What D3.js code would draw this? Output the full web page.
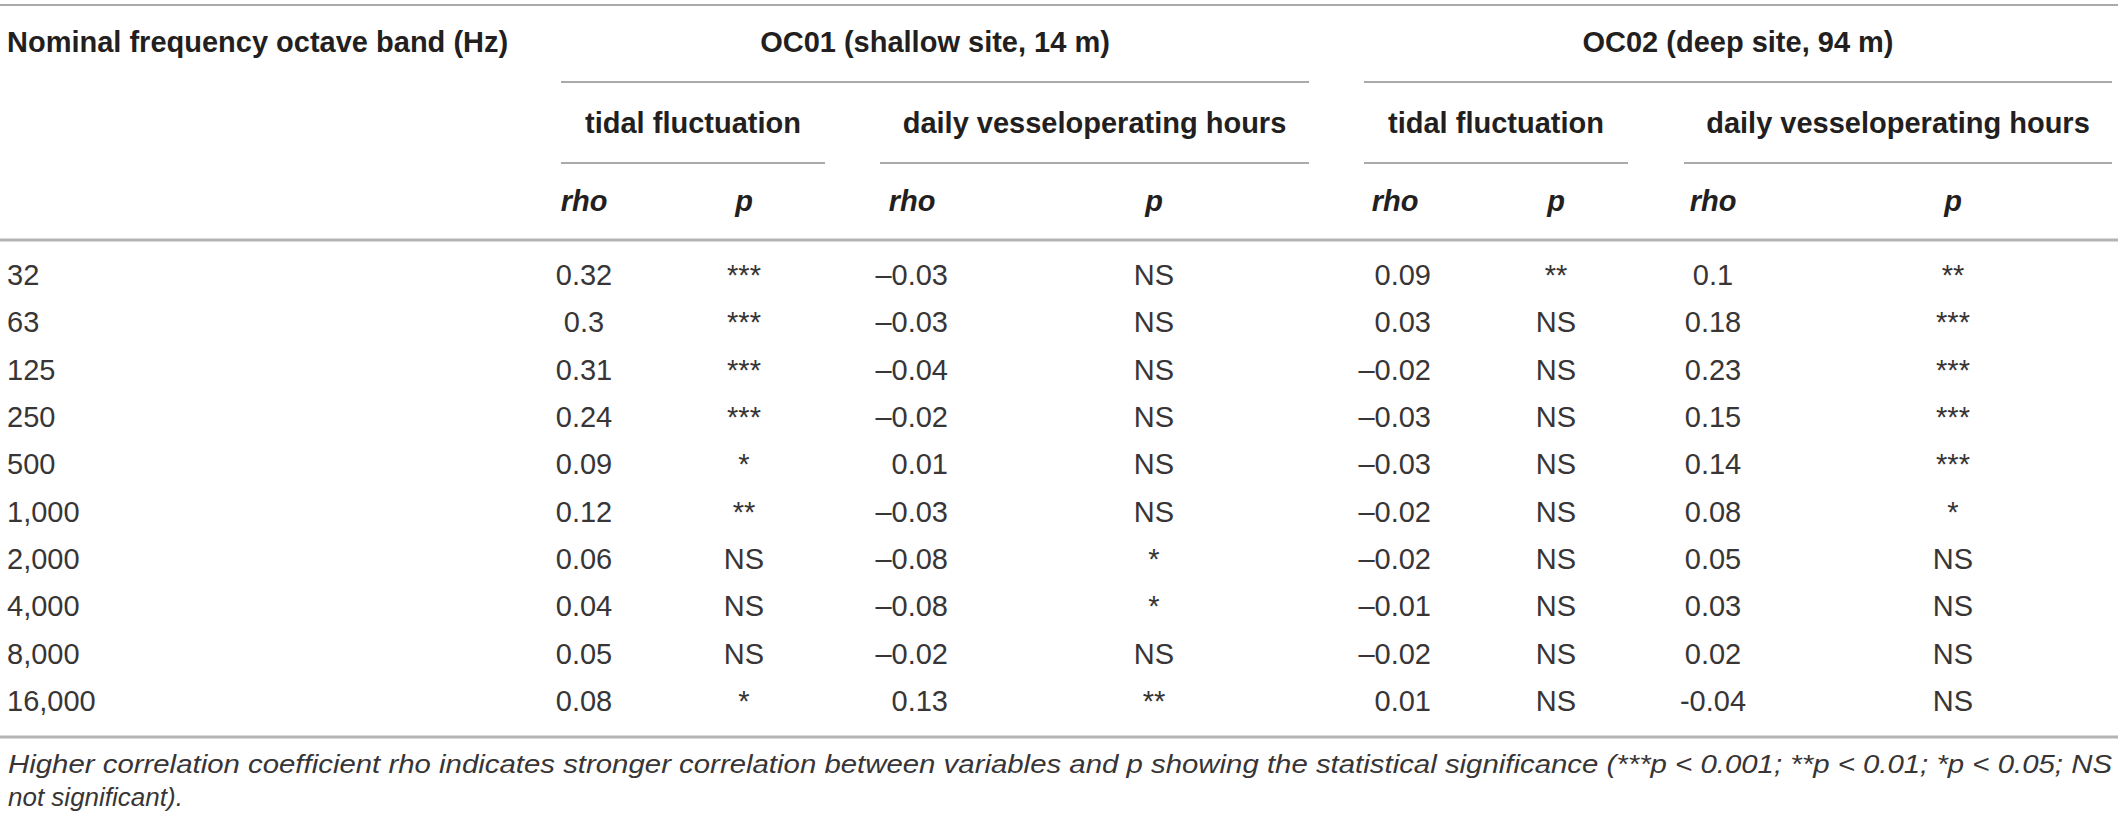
<!DOCTYPE html>
<html>
<head>
<meta charset="utf-8">
<script src="https://cdn.jsdelivr.net/npm/d3@7"></script>
<style>
  html, body { margin: 0; padding: 0; background: #fff; }
  svg { display: block; font-family: 'Liberation Sans', Arial, Helvetica, sans-serif; }
</style>
</head>
<body>
<div id="table"></div>
<script>
// Row labels (nominal frequency octave band, Hz)
const bands = ['32', '63', '125', '250', '500', '1,000', '2,000', '4,000', '8,000', '16,000']

// OC01 (shallow site, 14 m)
const oc01TidalRho = ['0.32', '0.3', '0.31', '0.24', '0.09', '0.12', '0.06', '0.04', '0.05', '0.08']
const oc01TidalP = ['***', '***', '***', '***', '*', '**', 'NS', 'NS', 'NS', '*']
const oc01VesselRho = ['–0.03', '–0.03', '–0.04', '–0.02', '0.01', '–0.03', '–0.08', '–0.08', '–0.02', '0.13']
const oc01VesselP = ['NS', 'NS', 'NS', 'NS', 'NS', 'NS', '*', '*', 'NS', '**']

// OC02 (deep site, 94 m)
const oc02TidalRho = ['0.09', '0.03', '–0.02', '–0.03', '–0.03', '–0.02', '–0.02', '–0.01', '–0.02', '0.01']
const oc02TidalP = ['**', 'NS', 'NS', 'NS', 'NS', 'NS', 'NS', 'NS', 'NS', 'NS']
const oc02VesselRho = ['0.1', '0.18', '0.23', '0.15', '0.14', '0.08', '0.05', '0.03', '0.02', '-0.04']
const oc02VesselP = ['**', '***', '***', '***', '***', '*', 'NS', 'NS', 'NS', 'NS']

const sites = ['OC01 (shallow site, 14 m)', 'OC02 (deep site, 94 m)']
const drivers = ['tidal fluctuation', 'daily vesseloperating hours']
const stats = ['rho', 'p']

const footnote = [
  'Higher correlation coefficient rho indicates stronger correlation between variables and p showing the statistical significance (***p < 0.001; **p < 0.01; *p < 0.05; NS',
  'not significant).'
]

const width = 2118
const height = 823
const ink = '#231f20'
const bodyInk = '#383536'

// columns: key, values, header x, value anchor
const columns = [
  { key: 'r1', values: oc01TidalRho, head: 584, anchor: 'middle' },
  { key: 'p1', values: oc01TidalP, head: 744, anchor: 'middle' },
  { key: 'r2', values: oc01VesselRho, head: 912, anchor: 'end' },
  { key: 'p2', values: oc01VesselP, head: 1154, anchor: 'middle' },
  { key: 'r3', values: oc02TidalRho, head: 1395, anchor: 'end' },
  { key: 'p3', values: oc02TidalP, head: 1556, anchor: 'middle' },
  { key: 'r4', values: oc02VesselRho, head: 1713, anchor: 'middle' },
  { key: 'p4', values: oc02VesselP, head: 1953, anchor: 'middle' }
]

const valueX = d3.scaleOrdinal()
  .domain(columns.map(c => c.key))
  .range([584, 744, 948, 1154, 1431, 1556, 1713, 1953])

const y = d3.scalePoint()
  .domain(bands)
  .range([285, 711])

// spans for the group rules
const siteSpans = [[561, 1309], [1364, 2112]]
const driverSpans = [[561, 825], [880, 1309], [1364, 1628], [1684, 2112]]

const svg = d3.select('#table')
  .append('svg')
  .attr('width', width)
  .attr('height', height)
  .style('background-color', '#FFF')

const rule = (x1, x2, yy, color, w) => {
  svg.append('line')
    .attr('x1', x1).attr('x2', x2)
    .attr('y1', yy).attr('y2', yy)
    .attr('stroke', color)
    .attr('stroke-width', w)
}

// Rules
rule(0, width, 5, '#8e8e8e', 1.5)
siteSpans.forEach(s => rule(s[0], s[1], 82, '#8e8e8e', 1.5))
driverSpans.forEach(s => rule(s[0], s[1], 163, '#8e8e8e', 1.5))
rule(0, width, 240, '#b4b4b4', 3)
rule(0, width, 737, '#b4b4b4', 3)

// Header row 1
const bold = sel => sel.attr('font-weight', 'bold').attr('font-size', 29).attr('fill', ink)

svg.append('text')
  .attr('x', 7).attr('y', 52)
  .text('Nominal frequency octave band (Hz)')
  .call(bold)

svg.selectAll('text.site')
  .data(sites)
  .join('text')
  .attr('class', 'site')
  .attr('x', (d, i) => (siteSpans[i][0] + siteSpans[i][1]) / 2)
  .attr('y', 52)
  .attr('text-anchor', 'middle')
  .text(d => d)
  .call(bold)

// Header row 2
svg.selectAll('text.driver')
  .data(driverSpans)
  .join('text')
  .attr('class', 'driver')
  .attr('x', d => (d[0] + d[1]) / 2)
  .attr('y', 133)
  .attr('text-anchor', 'middle')
  .text((d, i) => drivers[i % 2])
  .call(bold)

// Header row 3 (rho / p)
svg.selectAll('text.stat')
  .data(columns)
  .join('text')
  .attr('class', 'stat')
  .attr('x', d => d.head)
  .attr('y', 211)
  .attr('text-anchor', 'middle')
  .attr('font-style', 'italic')
  .text((d, i) => stats[i % 2])
  .call(bold)

// Body: band labels
svg.selectAll('text.band')
  .data(bands)
  .join('text')
  .attr('class', 'band')
  .attr('x', 7)
  .attr('y', d => y(d))
  .attr('font-size', 29)
  .attr('fill', bodyInk)
  .text(d => d)

// Body: value cells
columns.forEach(col => {
  svg.selectAll(`text.cell-${col.key}`)
    .data(col.values)
    .join('text')
    .attr('class', `cell-${col.key}`)
    .attr('x', valueX(col.key))
    .attr('y', (d, i) => y(bands[i]))
    .attr('text-anchor', col.anchor)
    .attr('font-size', 29)
    .attr('fill', bodyInk)
    .text(d => d)
})

// Footnote
svg.selectAll('text.note')
  .data(footnote)
  .join('text')
  .attr('class', 'note')
  .attr('x', 8)
  .attr('y', (d, i) => 773 + i * 33)
  .attr('font-size', 26)
  .attr('font-style', 'italic')
  .attr('fill', bodyInk)
  .text(d => d)
  .each(function (d, i) {
    if (i === 0) {
      d3.select(this)
        .attr('textLength', 2104)
        .attr('lengthAdjust', 'spacingAndGlyphs')
    }
  })
</script>
</body>
</html>
